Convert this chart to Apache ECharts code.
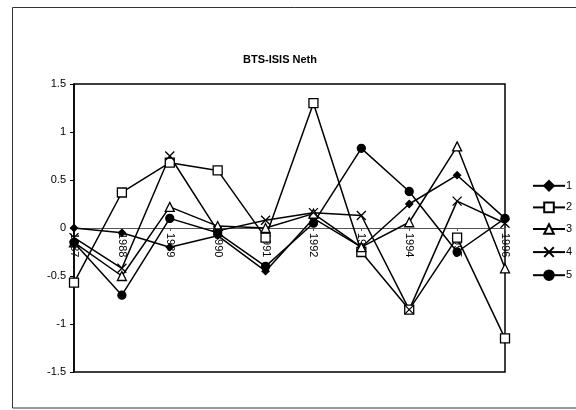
<!DOCTYPE html>
<html>
<head>
<meta charset="utf-8">
<script src="https://cdn.jsdelivr.net/npm/echarts@6/dist/echarts.min.js"></script>
<style>
html,body{margin:0;padding:0;background:#fff;}
#c{width:576px;height:410px;}
</style>
</head>
<body>
<div id="c"></div>
<script>
var categories = ['1987','1988','1989','1990','1991','1992','1993','1994','1995','1996'];
var s1 = [0, -0.05, -0.2, -0.08, -0.45, 0.1, -0.2, 0.25, 0.55, 0.1];
var s2 = [-0.57, 0.37, 0.68, 0.6, -0.1, 1.3, -0.25, -0.85, -0.1, -1.15];
var s3 = [-0.15, -0.5, 0.22, 0.02, 0.0, 0.15, -0.2, 0.06, 0.85, -0.42];
var s4 = [-0.1, -0.42, 0.75, -0.03, 0.08, 0.16, 0.13, -0.85, 0.28, 0.05];
var s5 = [-0.15, -0.7, 0.1, -0.05, -0.4, 0.05, 0.83, 0.38, -0.25, 0.1];
var seriesNames = ['1','2','3','4','5'];
var yTicks = {min: -1.5, max: 1.5, interval: 0.5};

var chart = echarts.init(document.getElementById('c'), null, {renderer: 'canvas'});
var lineStyle = {color: '#000', width: 1.5};
function mk(name, data, symbol, size, fill) {
  return {
    name: name, type: 'line', data: data,
    symbol: symbol, symbolSize: size, showAllSymbol: true,
    lineStyle: lineStyle,
    itemStyle: {color: fill, borderColor: '#000', borderWidth: 1.3},
    emphasis: {disabled: true},
    animation: false
  };
}
var option = {
  animation: false,
  backgroundColor: '#fff',
  title: {
    text: 'BTS-ISIS Neth', left: 275, top: 49, textAlign: 'center',
    textStyle: {fontFamily: 'Liberation Sans, Arial', fontSize: 11, fontWeight: 'bold', color: '#000'}
  },
  graphic: [{
    type: 'rect', shape: {x: 12.5, y: 7.5, width: 620, height: 400.5},
    style: {fill: 'none', stroke: '#333', lineWidth: 1}, silent: true
  }],
  legend: {
    orient: 'vertical', left: 527, top: 175, itemGap: 10,
    itemWidth: 32, itemHeight: 12,
    textStyle: {fontFamily: 'Liberation Sans, Arial', fontSize: 11, color: '#000', padding: [0,0,0,-4]},
    data: seriesNames
  },
  grid: {left: 74, right: 71, top: 84, bottom: 38, show: true, borderColor: '#000', borderWidth: 1.5, backgroundColor: 'transparent'},
  xAxis: {
    type: 'category', data: categories, boundaryGap: false,
    position: 'bottom', offset: -144,
    axisLine: {onZero: false, lineStyle: {color: '#555', width: 1}},
    axisTick: {show: true, alignWithLabel: true, length: 3, inside: false, lineStyle: {color: '#555'}},
    axisLabel: {rotate: -90, margin: 5, fontFamily: 'Liberation Sans, Arial', fontSize: 11, color: '#000'},
    splitLine: {show: false}
  },
  yAxis: {
    type: 'value', min: yTicks.min, max: yTicks.max, interval: yTicks.interval,
    axisLine: {show: true, lineStyle: {color: '#000', width: 1.5}},
    axisTick: {show: true, length: 4, lineStyle: {color: '#000'}},
    axisLabel: {margin: 8, fontFamily: 'Liberation Sans, Arial', fontSize: 11, color: '#000'},
    splitLine: {show: false}
  },
  series: [
    mk('1', s1, 'diamond', 7, '#000'),
    mk('2', s2, 'rect', 9, '#fff'),
    mk('3', s3, 'triangle', 9, '#fff'),
    mk('4', s4, 'path://M0,0L10,10M10,0L0,10', 9, 'none'),
    mk('5', s5, 'circle', 8, '#000')
  ]
};
chart.setOption(option);
</script>
</body>
</html>
